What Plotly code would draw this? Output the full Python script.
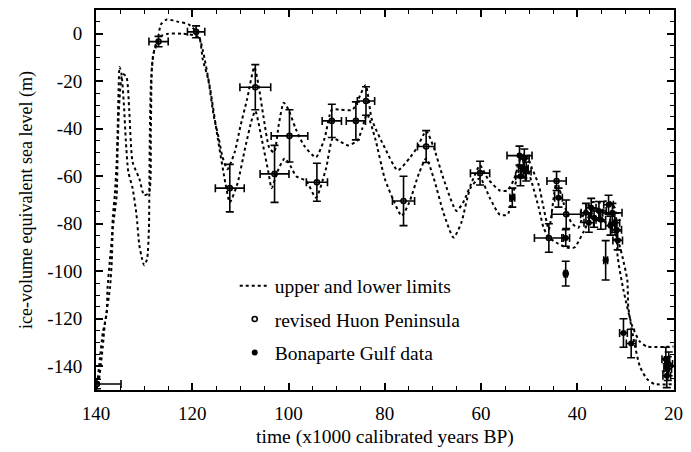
import plotly.graph_objects as go

# ---- limit curves (time in ka BP, sea level in m) ----
curve_a_t = [140, 139.8, 139.2, 138.6, 137.8, 137.6, 137.1, 136.7, 136.5, 136.1, 135.7, 135.5, 135.3, 135.1,
             134.7, 134.2, 133.8, 133.3, 132.4, 131.6, 131.0, 130.4, 130.0, 129.4, 129.0, 128.9, 128.8, 128.6,
             128.2, 127.5, 126.5, 125.0, 122.0, 119.0, 118.4, 117.8, 116.7, 115.5, 114.5, 113.7, 112.7, 111.2,
             110.0, 108.6, 107.1, 106.2, 105.2, 104.0, 103.0, 102.0, 101.0, 100.0, 98.5, 96.8, 94.3, 92.5, 91.0,
             89.2, 86.7, 84.0, 82.7, 80.0, 77.3, 74.9, 73.3, 71.4, 69.8, 67.8, 65.1, 63.7, 61.6, 60.2, 58.6,
             56.1, 54.5, 53.1, 51.8, 50.8, 49.4, 48.0, 47.0, 45.9, 44.9, 44.3, 42.9, 41.2, 39.8, 38.6, 37.1,
             35.1, 33.5, 32.2, 31.6, 30.4, 28.6, 27.0, 25.5, 20.0]
curve_a_v = [-150, -148, -137, -126, -118, -107, -95, -86, -77, -68, -54, -40, -23, -14,
             -17, -30, -45, -58, -65, -76, -89, -95, -97.5, -95, -82, -60, -40, -22,
             -10, -4, -1, 0, 0, -1, -2.5, -11, -19, -35, -44, -52, -57, -50,
             -39, -27.5, -14, -22, -35, -48, -50, -38, -29, -32, -40, -47, -52, -44, -32,
             -32, -32, -21.7, -36, -48, -57.5, -52.5, -48, -41, -48, -61, -74.6, -71, -61, -55.4, -61,
             -66, -66, -61, -52.5, -50.4, -56.7, -63.7, -73.3, -82.5, -69, -62, -71, -79.6, -81.7, -75.4, -71,
             -71, -70.4, -73.3, -94, -108, -123, -129.6, -131.7, -131.7]

curve_b_t = [140, 139.5, 138.6, 138.2, 137.1, 136.7, 136.5, 135.7, 135.5, 135.1, 134.5, 133.7, 133.1, 132.4,
             131.0, 130.0, 129.0, 128.6, 128.4, 128.0, 127.3, 126.5, 125.3, 122.9, 120.8, 118.8, 117.8, 116.3,
             114.7, 113.1, 112.2, 110.6, 109.0, 107.6, 106.9, 105.5, 104.2, 103.5, 102.3, 100.8, 99.5, 98.4,
             96.3, 94.3, 92.2, 90.8, 89.6, 87.6, 85.7, 84.7, 83.7, 82.0, 80.0, 78.0, 76.5, 74.9, 72.9, 71.4,
             69.8, 67.8, 65.7, 64.1, 62.2, 60.2, 58.2, 56.1, 54.5, 53.5, 52.0, 51.0, 49.4, 48.0, 47.0, 45.9,
             44.3, 42.2, 40.6, 38.6, 37.1, 35.1, 33.1, 31.4, 30.6, 29.6, 29.4, 28.4, 27.0, 25.5, 23.9, 20.0]
curve_b_v = [-150, -147, -132, -123, -107, -95, -82, -68, -48, -27, -17, -18, -32, -54,
             -61, -68, -67, -40, -15, -8, -4, 4, 6, 5, 4, 0, -7, -23,
             -44, -63, -71, -63, -48, -36, -32.5, -45, -58, -65, -58, -52.5, -56, -60,
             -62, -69, -56.7, -44, -45, -47, -45, -40, -33.8, -44, -61, -71, -76.7, -71, -58.8, -52.5,
             -61, -75.4, -85.8, -79.6, -65, -60.8, -69, -76.2, -76.2, -69, -56.7, -53.8, -63, -73.3, -81.7, -85.8,
             -88, -90, -90, -83, -77.5, -78.3, -80.8, -88, -94, -103.8, -115, -127.5, -140, -145.4, -147.5, -147.5]

# ---- revised Huon Peninsula ----
huon_t = [139.8, 127.0, 119.2, 112.2, 106.9, 99.8, 102.9, 94.1, 91.0, 86.0, 83.9, 76.1, 71.4, 60.2, 44.3, 42.3, 45.9, 42.4]
huon_v = [-147.5, -3.3, 0.8, -65, -22.5, -43, -59, -62.5, -36.7, -36.7, -28.3, -70.4, -47.5, -58.7, -62, -76, -86, -101]
huon_xerr = [5, 2, 1.8, 3, 3.2, 3.8, 3, 2.2, 2, 2, 1.8, 2.3, 1.8, 2, 2, 3, 3, 0.3]
huon_yerr = [2, 2.2, 2.5, 10, 9.5, 11, 12, 8, 7, 8, 6, 10.4, 6.7, 5, 4, 6, 6, 5.2]

# ---- Bonaparte Gulf data ----
bg_t = [52.0, 51.0, 51.2, 51.8, 50.6, 53.5, 43.9, 42.4,
        38.2, 37.1, 36.5, 37.6, 35.5, 35.1,
        33.5, 32.7, 32.2, 31.8, 31.6, 33.1, 34.1,
        30.4, 28.8, 21.6, 21.2, 21.4, 21.0]
bg_v = [-51.3, -52.5, -56.7, -60, -58, -69, -69, -86,
        -75.4, -73.3, -77.5, -79.6, -74.6, -78.3,
        -72, -75.4, -79.6, -82.5, -87, -80.8, -95.4,
        -126, -130.4, -137, -141, -144, -139]
bg_xerr = [2.6, 1, 1, 1, 1, 0.5, 0.8, 0.8,
           1, 1, 1, 1, 1.5, 1,
           1, 2, 1, 1, 1, 1, 0.4,
           0.8, 1, 0.8, 0.8, 0.8, 0.8]
bg_yerr = [4, 4, 4, 4, 4, 4, 4, 3.5,
           4, 4, 4, 4, 4, 4,
           4, 4, 4, 4, 4, 4, 8.3,
           6, 6, 5, 5, 5, 5]

x_tickvals = [140, 120, 100, 80, 60, 40, 20]
x_ticktext = ["140", "120", "100", "80", "60", "40", "20"]
y_tickvals = [0, -20, -40, -60, -80, -100, -120, -140]
y_ticktext = ["0", "-20", "-40", "-60", "-80", "-100", "-120", "-140"]

FONT = "Liberation Serif, Times New Roman, serif"

fig = go.Figure()
line_style = dict(color="black", width=2, dash="dot", shape="spline", smoothing=0.6)
fig.add_trace(go.Scatter(x=curve_a_t, y=curve_a_v, mode="lines", line=line_style,
                         name="upper and lower limits", legendgroup="g1"))
fig.add_trace(go.Scatter(x=curve_b_t, y=curve_b_v, mode="lines", line=line_style,
                         showlegend=False, legendgroup="g1"))

err_style = dict(type="data", color="black", thickness=1.6, width=4, visible=True)
fig.add_trace(go.Scatter(x=huon_t, y=huon_v, mode="markers", name="revised Huon Peninsula",
                         legendgroup="g2",
                         marker=dict(symbol="circle-open", size=5, color="black", line=dict(width=1.6, color="black")),
                         error_x=dict(array=huon_xerr, **err_style),
                         error_y=dict(array=huon_yerr, **err_style)))
fig.add_trace(go.Scatter(x=bg_t, y=bg_v, mode="markers", name="Bonaparte Gulf data",
                         legendgroup="g3",
                         marker=dict(symbol="circle", size=6, color="black"),
                         error_x=dict(array=bg_xerr, **err_style),
                         error_y=dict(array=bg_yerr, **err_style)))

axis_common = dict(showline=True, linewidth=2, linecolor="black", mirror="allticks",
                   ticks="inside", ticklen=7, tickwidth=1.5, tickcolor="black",
                   showgrid=False, zeroline=False, ticklabeloverflow="allow",
                   tickfont=dict(family=FONT, size=19, color="black"),
                   minor=dict(ticks="inside", ticklen=4, tickwidth=1, tickcolor="black",
                              tickmode="linear", tick0=0, dtick=5, showgrid=False))

fig.update_layout(
    width=691, height=452,
    margin=dict(l=96, r=8, t=10, b=60),
    paper_bgcolor="white", plot_bgcolor="white",
    font=dict(family=FONT, size=19, color="black"),
    xaxis=dict(range=[140, 19.9], tickmode="array", tickvals=x_tickvals, ticktext=x_ticktext,
               title=dict(text="time (x1000 calibrated years BP)", standoff=7,
                          font=dict(family=FONT, size=19.5)),
               ticklabelstandoff=5, **axis_common),
    yaxis=dict(range=[-150, 10], tickmode="array", tickvals=y_tickvals, ticktext=y_ticktext,
               title=dict(text="ice-volume equivalent sea level (m)", standoff=10,
                          font=dict(family=FONT, size=18)),
               ticklabelstandoff=8, **axis_common),
    legend=dict(x=0.24, y=0.325, xanchor="left", yanchor="top", bgcolor="rgba(0,0,0,0)",
                font=dict(family=FONT, size=19.5, color="black"), tracegroupgap=5,
                traceorder="grouped"),
    showlegend=True,
)

fig.write_html("out.html")
